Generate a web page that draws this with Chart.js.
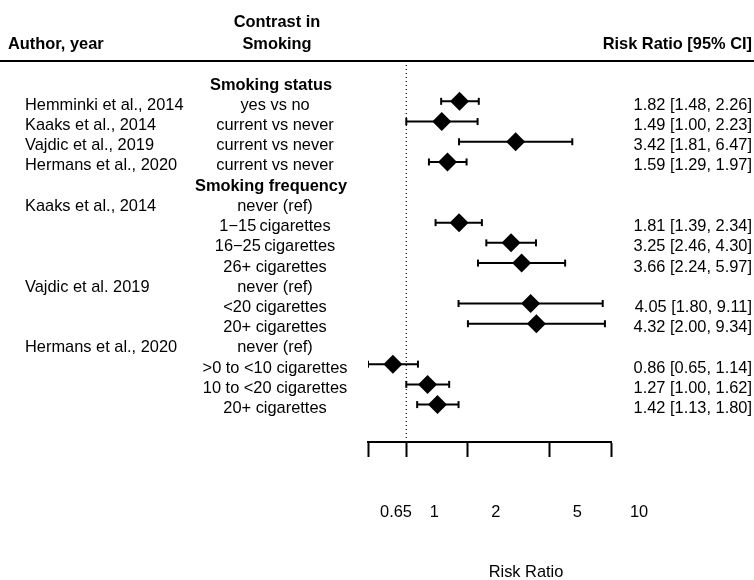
<!DOCTYPE html>
<html>
<head>
<meta charset="utf-8">
<script src="https://cdn.jsdelivr.net/npm/chart.js@4.4.1/dist/chart.umd.min.js"></script>
<style>
  body { margin: 0; background: #fff; }
  canvas { display: block; }
</style>
</head>
<body>
<canvas id="forest" width="754" height="580"></canvas>
<script>
// ── Data ─────────────────────────────────────────────────────────────────────
const authors = [
    '', 'Hemminki et al., 2014', 'Kaaks et al., 2014', 'Vajdic et al., 2019', 'Hermans et al., 2020',
    '', 'Kaaks et al., 2014', '', '', '',
    'Vajdic et al. 2019', '', '',
    'Hermans et al., 2020', '', '', ''
];
const contrasts = [
    'Smoking status', 'yes vs no', 'current vs never', 'current vs never', 'current vs never',
    'Smoking frequency', 'never (ref)', '1\u221215\u2009cigarettes', '16\u221225\u2009cigarettes', '26+ cigarettes',
    'never (ref)', '<20 cigarettes', '20+ cigarettes',
    'never (ref)', '>0 to <10 cigarettes', '10 to <20 cigarettes', '20+ cigarettes'
];
const headingRows = [0, 5];
const rr    = [null, 1.82, 1.49, 3.42, 1.59, null, null, 1.81, 3.25, 3.66, null, 4.05, 4.32, null, 0.86, 1.27, 1.42];
const lower = [null, 1.48, 1.00, 1.81, 1.29, null, null, 1.39, 2.46, 2.24, null, 1.80, 2.00, null, 0.65, 1.00, 1.13];
const upper = [null, 2.26, 2.23, 6.47, 1.97, null, null, 2.34, 4.30, 5.97, null, 9.11, 9.34, null, 1.14, 1.62, 1.80];

const xTicks = [0.65, 1, 2, 5, 10];
const xTickLabels = ['0.65', '1', '2', '5', '10'];
const refX = [1, 1];
const refY = [-0.8, 17.8];

const FONT = '"Liberation Sans", Arial, Helvetica, sans-serif';
const SIZE = 16.4;
const TEXT_DROP = 4;   // row labels sit a little below the marker centres

// ── Build datasets from the arrays ───────────────────────────────────────────
const diamonds = [], caps = [], ciSegs = [];
rr.forEach((v, i) => {
    if (v == null) return;
    diamonds.push({ x: v, y: i });
    caps.push({ x: lower[i], y: i }, { x: upper[i], y: i });
    ciSegs.push({ x: lower[i], y: i }, { x: upper[i], y: i }, { x: NaN, y: NaN });
});

// ── Text columns drawn against the y scale ───────────────────────────────────
const tablePlugin = {
    id: 'forestTable',
    afterDraw(chart) {
        const { ctx } = chart;
        const y = chart.scales.y;
        const W = chart.width;
        ctx.save();
        ctx.fillStyle = '#000';

        // header
        ctx.font = 'bold ' + SIZE + 'px ' + FONT;
        ctx.textBaseline = 'middle';
        ctx.textAlign = 'left';
        ctx.fillText('Author, year', 8, 44);
        ctx.textAlign = 'center';
        ctx.fillText('Contrast in', 277, 22);
        ctx.fillText('Smoking', 277, 44);
        ctx.textAlign = 'right';
        ctx.fillText('Risk Ratio [95% CI]', W - 2, 44);

        ctx.strokeStyle = '#000';
        ctx.lineWidth = 2;
        ctx.beginPath();
        ctx.moveTo(0, 61);
        ctx.lineTo(W, 61);
        ctx.stroke();

        // rows
        contrasts.forEach((c, i) => {
            const py = y.getPixelForValue(i) + TEXT_DROP;
            const bold = headingRows.includes(i);
            ctx.font = (bold ? 'bold ' : '') + SIZE + 'px ' + FONT;
            ctx.textAlign = 'left';
            if (authors[i]) ctx.fillText(authors[i], 25, py);
            ctx.textAlign = 'center';
            ctx.fillText(c, bold ? 271 : 275, py);
            if (rr[i] != null) {
                ctx.textAlign = 'right';
                ctx.fillText(rr[i].toFixed(2) + ' [' + lower[i].toFixed(2) + ', ' + upper[i].toFixed(2) + ']', W - 2, py);
            }
        });

        // axis title
        ctx.font = SIZE + 'px ' + FONT;
        ctx.textAlign = 'center';
        ctx.fillText('Risk Ratio', 526, 572);
        ctx.restore();
    }
};

// ── Chart ────────────────────────────────────────────────────────────────────
new Chart(document.getElementById('forest'), {
    type: 'scatter',
    data: {
        datasets: [
            {
                type: 'line',
                data: refX.map((x, i) => ({ x, y: refY[i] })),
                borderColor: '#000',
                borderWidth: 1.2,
                borderDash: [1, 3],
                pointRadius: 0,
                clip: false
            },
            {
                type: 'line',
                data: ciSegs,
                borderColor: '#000',
                borderWidth: 2,
                pointRadius: 0,
                spanGaps: false
            },
            {
                data: caps,
                pointStyle: 'line',
                rotation: 90,
                radius: 3.5,
                borderColor: '#000',
                borderWidth: 2
            },
            {
                data: diamonds,
                pointStyle: 'rectRot',
                radius: 9.5,
                backgroundColor: '#000',
                borderColor: '#000',
                borderWidth: 0
            }
        ]
    },
    options: {
        responsive: false,
        animation: false,
        layout: { padding: { left: 368, right: 143, top: 71, bottom: 0 } },
        plugins: { legend: { display: false }, tooltip: { enabled: false } },
        scales: {
            x: {
                type: 'logarithmic',
                min: 0.65,
                max: 10,
                afterBuildTicks: s => { s.ticks = xTicks.map(v => ({ value: v })); },
                afterFit: s => { s.height = 138; },
                ticks: {
                    callback: (v, i) => xTickLabels[i],
                    autoSkip: false,
                    maxRotation: 0,
                    labelOffset: 28,
                    padding: 46,
                    color: '#000',
                    font: { family: FONT, size: SIZE }
                },
                grid: { drawOnChartArea: false, tickLength: 15, tickWidth: 2, color: '#000' },
                border: { display: true, color: '#000', width: 2 }
            },
            y: { type: 'linear', reverse: true, min: -0.5, max: 17.85, display: false }
        }
    },
    plugins: [tablePlugin]
});
</script>
</body>
</html>
